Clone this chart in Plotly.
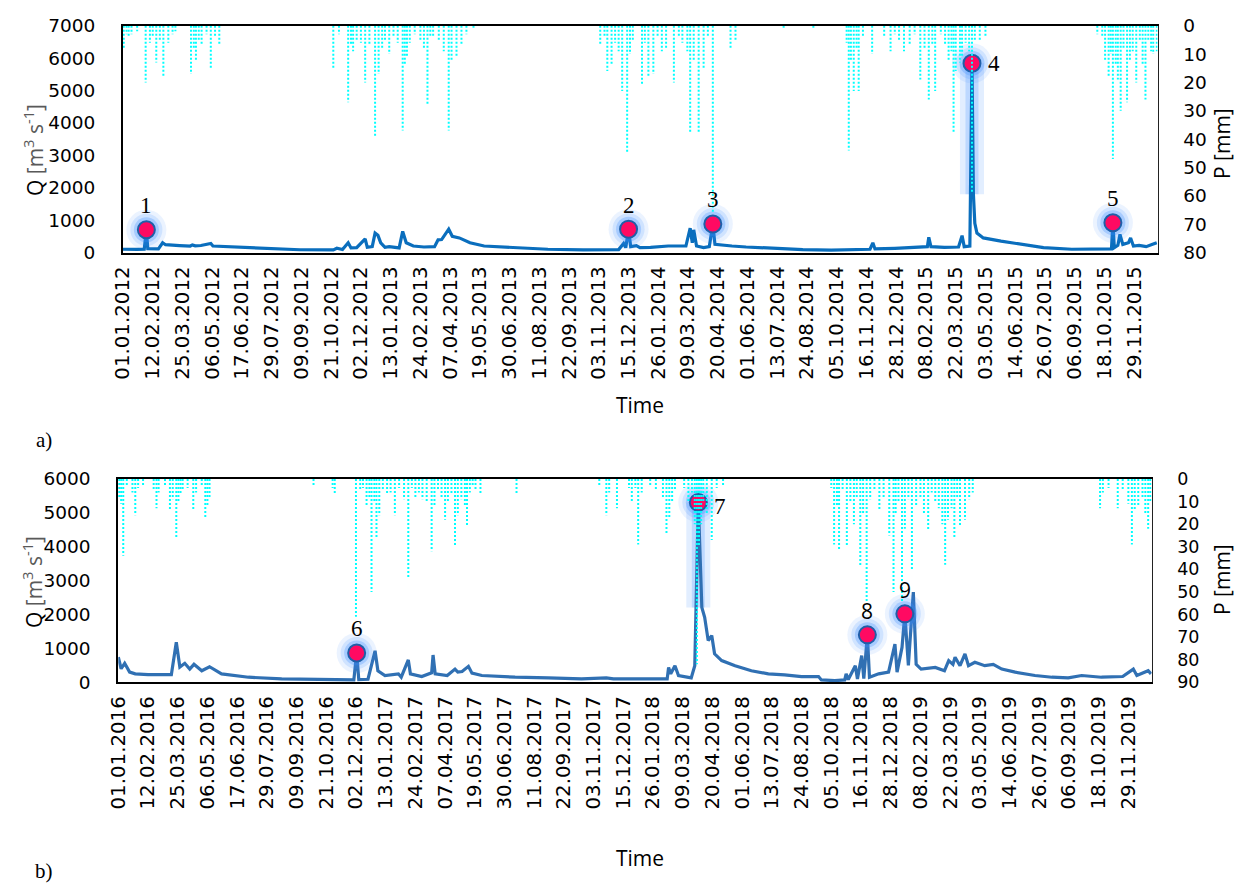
import pandas as pd
import plotly.graph_objects as go

# ---------------- data (day index since start date) ----------------
start_a = "2012-01-01"
start_b = "2016-01-01"

# Panel a: discharge Q [m3 s-1]
qa_day = [0, 10, 20, 30, 33, 35, 50, 56, 60, 80, 95, 98, 102, 110, 124, 127, 150, 180, 208, 250,
          297, 302, 310, 318, 322, 330, 342, 345, 352, 356, 360, 364, 370, 376, 390, 395, 400, 410,
          425, 440, 445, 450, 460, 465, 475, 490, 510, 550, 600, 650, 700, 707, 710, 714, 717, 725,
          730, 745, 758, 770, 795, 801, 804, 806, 810, 820, 828, 833, 836, 845, 860, 880, 920, 960,
          1000, 1040, 1055, 1059, 1062, 1090, 1120, 1136, 1138, 1141, 1160, 1180, 1185, 1188, 1196,
          1199, 1201, 1203, 1206, 1215, 1240, 1270, 1300, 1340, 1380, 1396, 1398, 1400, 1405, 1408,
          1412, 1420, 1423, 1427, 1435, 1445, 1455, 1460]
qa_val = [100, 110, 95, 100, 700, 120, 110, 300, 240, 215, 200, 235, 205, 215, 280, 200, 180, 150, 110, 85,
          80, 130, 90, 300, 140, 150, 420, 160, 180, 600, 530, 300, 160, 180, 140, 650, 300, 200,
          170, 180, 390, 400, 720, 500, 450, 300, 200, 150, 100, 80, 90, 280, 150, 720, 180, 210,
          150, 160, 190, 200, 200, 750, 300, 700, 200, 150, 180, 880, 250, 240, 200, 170, 120, 90,
          75, 85, 100, 300, 110, 130, 150, 180, 470, 180, 160, 170, 520, 180, 200,
          5840, 1800, 900, 600, 450, 350, 250, 150, 100, 95, 110, 920, 150, 220, 560,
          250, 300, 450, 200, 220, 180, 260, 300]

# Panel a: precipitation P [mm]
pa_day = [1, 5, 8, 12, 20, 32, 38, 42, 47, 52, 57, 64, 70, 74, 96, 100, 103, 107, 111, 118, 124, 130, 136,
          297, 305, 318, 322, 325, 330, 336, 342, 348, 356, 361, 366, 370, 376, 382, 388, 395, 398, 401,
          405, 412, 420, 425, 430, 434, 438, 446, 453, 460, 464, 471, 478, 485, 495,
          674, 680, 684, 690, 695, 700, 705, 712, 716, 720, 733, 737, 742, 749, 755, 761, 767, 778, 785,
          790, 797, 801, 806, 813, 820, 826, 833, 858, 865, 933, 975,
          1022, 1025, 1028, 1032, 1036, 1039, 1045, 1058, 1075, 1084, 1090, 1096, 1103, 1111, 1118, 1126,
          1132, 1138, 1143, 1147, 1155, 1161, 1166, 1170, 1173, 1176, 1182, 1185, 1190, 1195, 1199, 1203,
          1210, 1218, 1376, 1383, 1387, 1392, 1395, 1398, 1402, 1405, 1409, 1413, 1418, 1422, 1426, 1431,
          1436, 1440, 1444, 1448, 1452, 1455, 1460]
pa_val = [8, 3, 4, 3, 2, 20, 6, 4, 13, 5, 18, 6, 3, 2, 17, 8, 12, 5, 7, 3, 15, 4, 7,
          15, 3, 27, 7, 9, 5, 6, 20, 7, 39, 17, 8, 5, 10, 4, 6, 37, 14, 11,
          6, 3, 5, 8, 28, 4, 4, 5, 9, 37, 12, 11, 7, 3, 1,
          7, 4, 16, 14, 6, 9, 23, 45, 10, 5, 21, 6, 18, 17, 4, 9, 8, 20, 4,
          6, 9, 38, 12, 38, 15, 4, 66, 8, 5, 1, 1,
          6, 44, 12, 23, 8, 23, 4, 10, 4, 9, 3, 5, 9, 7, 3, 19,
          8, 26, 7, 23, 3, 7, 12, 9, 38, 16, 13, 11, 6, 9, 59, 5,
          5, 4, 3, 4, 12, 18, 10, 47, 14, 19, 30, 8, 27, 12, 9, 20,
          5, 14, 26, 5, 9, 10, 9]

# Panel b: discharge
qb_day = [0, 4, 9, 16, 24, 42, 75, 82, 87, 94, 101, 107, 118, 129, 146, 184, 231, 278, 325, 333,
          337, 340, 353, 363, 367, 377, 396, 400, 410, 413, 429, 443, 445, 448, 465, 476, 480, 486,
          495, 500, 514, 561, 608, 655, 690, 700, 745, 776, 778, 781, 787, 792, 810, 815, 820, 825,
          829, 834, 839, 843, 853, 872, 895, 919, 942, 966, 990, 994, 1013, 1027, 1029, 1032, 1042,
          1045, 1051, 1054, 1059, 1062, 1075, 1089, 1098, 1101, 1108, 1112, 1117, 1124, 1128, 1135,
          1155, 1168, 1174, 1180, 1183, 1190, 1197, 1202, 1211, 1225, 1237, 1249, 1268, 1296, 1320,
          1343, 1362, 1390, 1420, 1435, 1440, 1456, 1460]
qb_val = [740, 400, 560, 300, 250, 225, 225, 1180, 450, 560, 390, 530, 340, 460, 250, 150, 100, 80, 70, 70,
          865, 80, 90, 930, 340, 200, 250, 150, 660, 250, 170, 280, 805, 250, 200, 390, 300, 320,
          470, 270, 200, 150, 130, 100, 130, 100, 100, 100, 440, 250, 490, 200, 130, 490, 5310, 2210,
          1920, 1230, 1380, 840, 640, 490, 340, 250, 220, 170, 170, 70, 50, 70, 250, 80, 490,
          100, 790, 110, 1400, 150, 250, 300, 1130, 300, 1030, 2020, 500, 2660, 530, 390,
          440, 340, 640, 530, 740, 490, 840, 490, 590, 490, 530, 390, 300, 200, 150,
          130, 200, 150, 170, 390, 200, 340, 250]

# Panel b: precipitation
pb_day = [1, 4, 7, 12, 20, 24, 28, 35, 50, 54, 57, 66, 73, 77, 82, 85, 88, 91, 98, 106, 110, 118, 123,
          126, 129, 276, 303, 306, 336, 342, 346, 351, 355, 358, 362, 365, 369, 374, 380, 385, 391, 397,
          404, 410, 415, 420, 425, 430, 436, 443, 447, 452, 457, 462, 466, 471, 476, 480, 485, 490, 493,
          497, 501, 505, 512, 563, 680, 690, 694, 705, 722, 726, 731, 735, 740, 752, 760, 770, 775, 779,
          783, 787, 800, 806, 811, 815, 818, 821, 824, 827, 832, 839, 846, 855,
          1008, 1012, 1016, 1019, 1024, 1030, 1035, 1040, 1044, 1049, 1053, 1058, 1063, 1069, 1076, 1082,
          1090, 1096, 1099, 1103, 1108, 1112, 1117, 1122, 1128, 1134, 1139, 1145, 1150, 1155, 1160, 1165,
          1169, 1173, 1178, 1182, 1186, 1190, 1197, 1203, 1208, 1388, 1392, 1400, 1413, 1420, 1428, 1433,
          1437, 1442, 1448, 1452, 1456, 1459]
pb_val = [8, 11, 34, 3, 6, 16, 4, 3, 5, 13, 6, 3, 14, 9, 26, 10, 7, 5, 4, 14, 6, 3, 17,
          12, 8, 3, 4, 7, 61, 5, 4, 12, 8, 50, 10, 26, 16, 5, 7, 6, 16, 4,
          9, 44, 4, 8, 6, 9, 10, 32, 12, 5, 8, 18, 10, 7, 30, 16, 9, 12, 21,
          6, 3, 5, 7, 7, 3, 16, 6, 13, 4, 10, 4, 29, 6, 3, 5, 8, 24, 17,
          10, 5, 4, 10, 6, 20, 82, 30, 20, 10, 15, 27, 4, 3,
          4, 29, 12, 31, 5, 30, 10, 20, 8, 39, 15, 54, 9, 5, 14, 8,
          25, 50, 15, 10, 54, 22, 9, 40, 12, 8, 15, 23, 6, 10, 13, 20,
          38, 18, 13, 26, 8, 21, 18, 9, 6, 13, 6, 4, 13, 5, 11, 29,
          14, 12, 8, 15, 22, 10]

# Events
ev_a_day = [33, 714, 833, 1199, 1398]
ev_a_q = [700, 720, 880, 5840, 920]
ev_a_lbl = ["1", "2", "3", "4", "5"]
ev_b_day = [337, 820, 1059, 1112]
ev_b_q = [865, 5310, 1400, 2020]
ev_b_lbl = ["6", "7", "8", "9"]

# Axes
q_max_a, p_max_a = 7000, 80
q_max_b, p_max_b = 6000, 90

# ---------------- helpers ----------------
def to_dates(start, days):
    return list(pd.Timestamp(start) + pd.to_timedelta(days, unit="D"))


def stems(start, days, vals):
    xs, ys = [], []
    for d, v in zip(to_dates(start, days), vals):
        xs += [d, d, None]
        ys += [0, v, None]
    return xs, ys


fig = go.Figure()

Q_COL_A = "#0A6EBD"
Q_COL_B = "#3070B3"
P_COL = "#00FFFF"
RED = "#FF0A62"
GLOW = "rgba(60,140,255,{a})"
TICK_FONT = dict(family="DejaVu Sans", size=18.5, color="black")
TICK_FONT_PB = dict(family="DejaVu Sans", size=17.5, color="black")
DATE_FONT = dict(family="DejaVu Sans", size=19.8, color="black")


def add_panel(start, qd, qv, pd_, pv, ev_d, ev_q, ev_l, xa, ya, ya2, qcol, lbl_fonts):
    # glow along big spikes
    for d, q in zip(ev_d, ev_q):
        if q > 3000:
            i = qd.index(d)
            dd = to_dates(start, [d, d])
            fig.add_trace(go.Scatter(x=dd, y=[q, qv[i + 1]], mode="lines", xaxis=xa, yaxis=ya,
                                     line=dict(color=GLOW.format(a=0.15), width=24),
                                     hoverinfo="skip", showlegend=False))
            fig.add_trace(go.Scatter(x=dd, y=[q, qv[i + 1]], mode="lines", xaxis=xa, yaxis=ya,
                                     line=dict(color=GLOW.format(a=0.22), width=13),
                                     hoverinfo="skip", showlegend=False))
    # discharge line
    fig.add_trace(go.Scatter(x=to_dates(start, qd), y=qv, mode="lines", xaxis=xa, yaxis=ya,
                             line=dict(color=qcol, width=3.2), showlegend=False))
    # glow around markers
    for size, a in [(40, 0.10), (32, 0.16), (25, 0.28)]:
        fig.add_trace(go.Scatter(x=to_dates(start, ev_d), y=ev_q, mode="markers", xaxis=xa, yaxis=ya,
                                 marker=dict(size=size, color=GLOW.format(a=a), line=dict(width=0)),
                                 hoverinfo="skip", showlegend=False))
    fig.add_trace(go.Scatter(x=to_dates(start, ev_d), y=ev_q, mode="markers", xaxis=xa, yaxis=ya,
                             marker=dict(size=17, color=RED, line=dict(color="#1F5FA8", width=2)),
                             showlegend=False))
    # precipitation (hanging dotted stems)
    px, py = stems(start, pd_, pv)
    fig.add_trace(go.Scatter(x=px, y=py, mode="lines", xaxis=xa, yaxis=ya2, connectgaps=False,
                             line=dict(color=P_COL, width=2, dash="2px,2px"), showlegend=False))
    # event labels
    for d, q, l in zip(ev_d, ev_q, ev_l):
        right = q > 3000
        fig.add_annotation(x=pd.Timestamp(start) + pd.Timedelta(days=d), y=q,
                           xref=xa, yref=ya, text=l, showarrow=False,
                           xshift=22 if right else 0, yshift=-4 if (right and l == "7") else (0 if right else 24),
                           font=lbl_fonts.get(l, dict(family="Liberation Serif", size=23, color="black")))


sans_lbl = dict(family="Open Sans", size=21, color="black")
add_panel(start_a, qa_day, qa_val, pa_day, pa_val, ev_a_day, ev_a_q, ev_a_lbl, "x", "y", "y2", Q_COL_A, {})
add_panel(start_b, qb_day, qb_val, pb_day, pb_val, ev_b_day, ev_b_q, ev_b_lbl, "x2", "y3", "y4", Q_COL_B,
          {"8": sans_lbl, "9": sans_lbl})

W, H = 1238, 885
dom_xa = [123 / W, 1157.5 / W]
dom_ya = [1 - 252.5 / H, 1 - 25.7 / H]
dom_xb = [118.3 / W, 1151.7 / W]
dom_yb = [1 - 682.3 / H, 1 - 479 / H]

dtick = 42 * 86400000


def xaxis(start, dom, anchor):
    end = pd.Timestamp(start) + pd.Timedelta(days=1461)
    return dict(domain=dom, anchor=anchor, type="date", range=[pd.Timestamp(start), end],
                tickmode="linear", tick0=start, dtick=dtick, tickformat="%d.%m.%Y", tickangle=-90,
                tickfont=DATE_FONT, showline=True, linecolor="black", linewidth=2, mirror=True,
                showgrid=False, zeroline=False, ticks="", ticklabelstandoff=4, automargin=False)


def qaxis(dom, anchor, qmax):
    return dict(domain=dom, anchor=anchor, range=[0, qmax], dtick=1000, tickfont=TICK_FONT,
                showline=True, linecolor="black", linewidth=2, showgrid=False, zeroline=False,
                ticks="", ticklabelstandoff=22, automargin=False)


def paxis(over, anchor, pmax, font):
    return dict(overlaying=over, anchor=anchor, side="right", range=[pmax, 0], dtick=10,
                tickfont=font, showline=True, linecolor="#222", linewidth=1, showgrid=False,
                zeroline=False, ticks="", ticklabelstandoff=21, automargin=False)


fig.update_layout(
    width=W, height=H, margin=dict(l=0, r=0, t=0, b=0, autoexpand=False), autosize=False,
    paper_bgcolor="white", plot_bgcolor="white", showlegend=False,
    xaxis=xaxis(start_a, dom_xa, "y"),
    yaxis=qaxis(dom_ya, "x", q_max_a),
    yaxis2=paxis("y", "x", p_max_a, TICK_FONT),
    xaxis2=xaxis(start_b, dom_xb, "y3"),
    yaxis3=qaxis(dom_yb, "x2", q_max_b),
    yaxis4=paxis("y3", "x2", p_max_b, TICK_FONT_PB),
)

q_title = 'Q <span style="color:#595959">[m<sup>3</sup> s<sup>-1</sup>]</span>'
title_font = dict(family="Open Sans", size=21, color="black")
for (xp, yp, txt, ang) in [(33, 150, q_title, -90), (1222, 144, "P [mm]", -90),
                           (32, 582, q_title, -90), (1222, 580, "P [mm]", -90),
                           (640, 405, "Time", 0), (640, 858, "Time", 0)]:
    fig.add_annotation(x=xp / W, y=1 - yp / H, xref="paper", yref="paper", text=txt, textangle=ang,
                       showarrow=False, font=title_font, xanchor="center", yanchor="middle")

for (xp, yp, txt) in [(44, 440, "a)"), (44, 871, "b)")]:
    fig.add_annotation(x=xp / W, y=1 - yp / H, xref="paper", yref="paper", text=txt, showarrow=False,
                       font=dict(family="Liberation Serif", size=21, color="black"),
                       xanchor="center", yanchor="middle")

fig.write_html("out.html")
